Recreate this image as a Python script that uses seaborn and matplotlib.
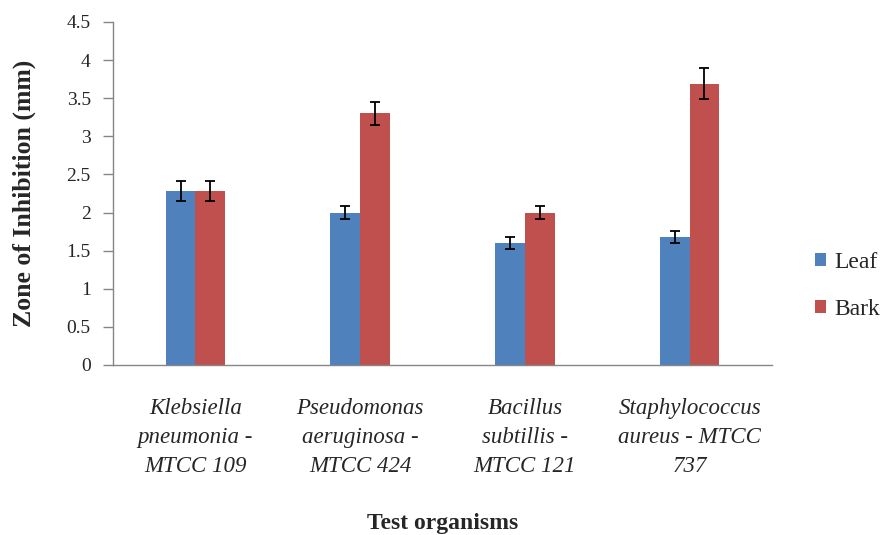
import pandas as pd
import seaborn as sns
import matplotlib.pyplot as plt

# Values
organisms = ["Klebsiella\npneumonia -\nMTCC 109",
             "Pseudomonas\naeruginosa -\nMTCC 424",
             "Bacillus\nsubtillis -\nMTCC 121",
             "Staphylococcus\naureus - MTCC\n737"]
leaf = [2.28, 2.0, 1.6, 1.68]
bark = [2.28, 3.3, 2.0, 3.69]
leaf_err = [0.13, 0.09, 0.08, 0.08]
bark_err = [0.13, 0.15, 0.09, 0.20]
y_ticks = [0, 0.5, 1, 1.5, 2, 2.5, 3, 3.5, 4, 4.5]

df = pd.DataFrame({
    "organism": organisms * 2,
    "value": leaf + bark,
    "part": ["Leaf"] * 4 + ["Bark"] * 4,
})

sns.set_style("white")
plt.rcParams["font.family"] = ["Liberation Serif", "DejaVu Serif"]

fig = plt.figure(figsize=(8.87, 5.35), dpi=100)
ax = fig.add_axes([0.1274, 0.3178, 0.7429, 0.6411])

sns.barplot(data=df, x="organism", y="value", hue="part",
            palette=["#4F81BD", "#C0504D"], saturation=1, width=0.36,
            edgecolor="none", ax=ax)

# error bars on top of the bars seaborn drew
for container, errs in zip(ax.containers, [leaf_err, bark_err]):
    xs = [b.get_x() + b.get_width() / 2 for b in container]
    hs = [b.get_height() for b in container]
    ax.errorbar(xs, hs, yerr=errs, fmt="none", ecolor="black",
                elinewidth=1.3, capsize=3.5, capthick=1.3)

ax.set_ylim(0, 4.5)
ax.set_xlim(-0.5, 3.5)
ax.set_yticks(y_ticks)
ax.set_yticklabels([f"{t:g}" for t in y_ticks], fontsize=14)
ax.set_xticks(range(4))
ax.set_xticklabels(organisms, fontsize=16.5, style="italic", linespacing=1.5)
ax.set_xticks([-0.5, 0.5, 1.5, 2.5, 3.5], minor=True)
ax.tick_params(axis="x", which="major", length=0, pad=24)
ax.tick_params(axis="x", which="minor", length=9, color="#868686", width=1)
ax.tick_params(axis="y", length=7, color="#868686", width=1, pad=9,
               left=True)

for s in ["top", "right"]:
    ax.spines[s].set_visible(False)
for s in ["left", "bottom"]:
    ax.spines[s].set_color("#868686")
    ax.spines[s].set_linewidth(1)

ax.set_xlabel("Test organisms", fontsize=17, fontweight="bold", labelpad=26)
ax.set_ylabel("Zone of Inhibition (mm)", fontsize=18.5, fontweight="bold",
              labelpad=22)

handles, labels = ax.get_legend_handles_labels()
ax.legend(handles, labels, loc="center left", bbox_to_anchor=(0.905, 0.466),
          bbox_transform=fig.transFigure, frameon=False, fontsize=17,
          handlelength=0.5, handleheight=0.5, handletextpad=0.35,
          labelspacing=1.1, borderpad=0)

fig.savefig("out.png", dpi=100)
